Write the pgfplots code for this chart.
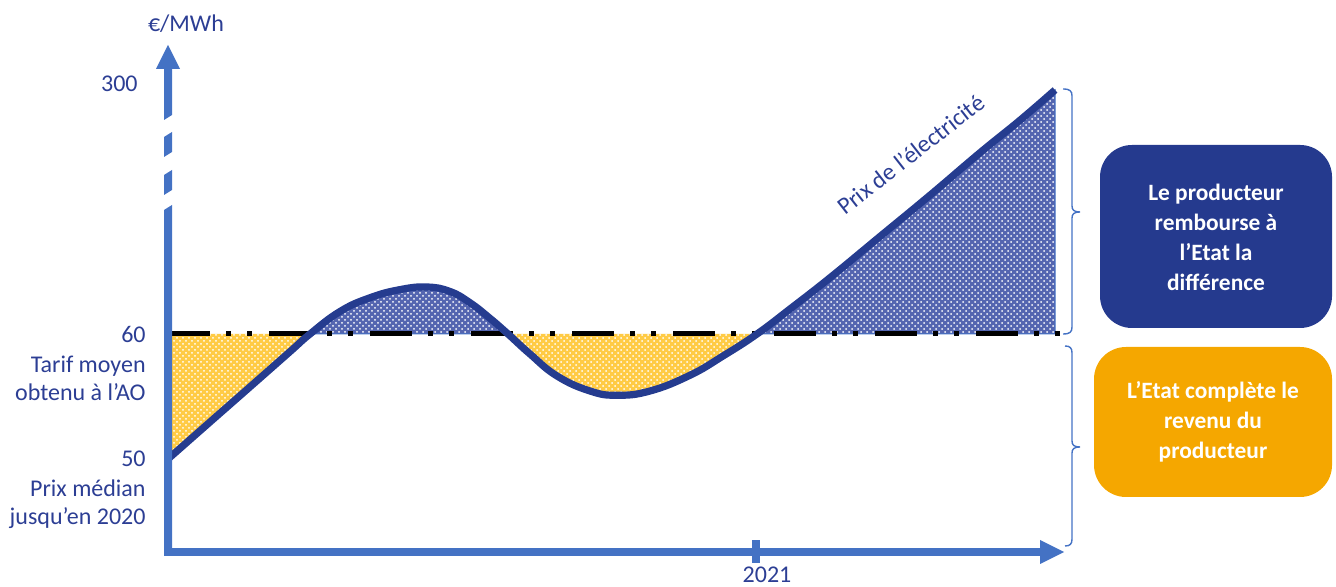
\documentclass[border=0pt]{standalone}
\usepackage{fontspec}
\setmainfont{Carlito}
\usepackage{pgfplots}
\pgfplotsset{compat=1.18}
\usepgfplotslibrary{fillbetween}
\usetikzlibrary{patterns}
\definecolor{axisblue}{HTML}{4472C4}
\definecolor{curvenavy}{HTML}{253C8F}
\definecolor{textnavy}{HTML}{2C3E94}
\definecolor{boxnavy}{HTML}{253A8E}
\definecolor{boxorange}{HTML}{F5A700}
\definecolor{yfill}{HTML}{FFCB45}
\definecolor{bfill}{HTML}{5465B0}
\pgfplotstableread{
x y
168 50.0
210 52.96
250 55.77
290 58.59
310 60.0
340 61.8
370 62.9
400 63.55
427 63.76
450 63.4
470 62.5
490 61.25
508 60.0
530 58.4
557 56.64
590 55.44
617 55.1
650 55.44
690 56.7
723 58.24
757 60.0
790 62.0
830 64.5
880 67.8
930 71.1
980 74.5
1020 77.1
1055 79.52
}\pricetable
\begin{document}
\begin{tikzpicture}
\begin{axis}[scale only axis, width=668pt, height=293.5pt,
  xmin=0, xmax=1336, ymin=39.76, ymax=86.72,
  axis lines=none, ticks=none, clip=false]
\addplot[name path=curve, draw=none, smooth, tension=0.75] table[x=x, y=y] {\pricetable};
\addplot[name path=ref, draw=none] coordinates {(168,60) (1063,60)};
\addplot[fill=yfill, postaction={pattern=crosshatch dots, pattern color=white}]
  fill between[of=curve and ref, soft clip={domain=168:310}];
\addplot[fill=yfill, postaction={pattern=crosshatch dots, pattern color=white}]
  fill between[of=curve and ref, soft clip={domain=508:757}];
\addplot[fill=bfill, draw=axisblue, line width=0.5pt, postaction={pattern=crosshatch dots, pattern color=white}]
  fill between[of=curve and ref, soft clip={domain=310:508}];
\addplot[fill=bfill, draw=axisblue, line width=0.5pt, postaction={pattern=crosshatch dots, pattern color=white}]
  fill between[of=curve and ref, soft clip={domain=757:1055}];
\addplot[black, line width=2.5pt, dash pattern=on 21pt off 8pt on 2.5pt off 8pt on 2.5pt off 8.5pt]
  coordinates {(168,60) (1063,60)};
\addplot[curvenavy, line width=3.6pt, smooth, tension=0.75] table[x=x, y=y] {\pricetable};
\end{axis}
\begin{scope}[shift={(0pt,293.5pt)}, x=0.5pt, y=-0.5pt,
  every node/.style={inner sep=0pt, font=\fontsize{12pt}{14.5pt}\selectfont}]
% y axis (broken)
\fill[axisblue] (164,552) -- (172,552) -- (172,205) -- (164,210) -- cycle;
\fill[axisblue] (164,195) -- (172,190) -- (172,170) -- (164,175) -- cycle;
\fill[axisblue] (164,157) -- (172,152) -- (172,132) -- (164,137) -- cycle;
\fill[axisblue] (164,120) -- (172,115) -- (172,68) -- (164,68) -- cycle;
\fill[axisblue] (156,69) -- (180,69) -- (168,45) -- cycle;
% x axis
\fill[axisblue] (164,548) rectangle (1041,556);
\fill[axisblue] (1040,540) -- (1064,552) -- (1040,564) -- cycle;
\fill[axisblue] (752,540) rectangle (760,563);
% labels
\node[anchor=base, text=textnavy] at (186,32) {€/MWh};
\node[anchor=base east, text=textnavy] at (138,92) {300};
\node[anchor=base east, text=textnavy] at (146,343) {60};
\node[anchor=base east, text=textnavy] at (146,373) {Tarif moyen};
\node[anchor=base east, text=textnavy] at (146,401) {obtenu à l’AO};
\node[anchor=base east, text=textnavy] at (146,467) {50};
\node[anchor=base east, text=textnavy] at (146,497) {Prix médian};
\node[anchor=base east, text=textnavy] at (146,525) {jusqu’en 2020};
\node[anchor=base, text=textnavy] at (767,583) {2021};
\node[anchor=base, text=textnavy, rotate=38] at (916,161) {Prix de l’électricité};
% braces
\draw[axisblue, line width=0.7pt] (1063,89) .. controls (1070,89) and (1072,91) .. (1072,96)
  -- (1072,206) .. controls (1072,210) and (1074,212) .. (1080,212)
  .. controls (1074,212) and (1072,214) .. (1072,218) -- (1072,327)
  .. controls (1072,332) and (1070,334) .. (1063,334);
\draw[axisblue, line width=0.7pt] (1065,346) .. controls (1070,346) and (1072,348) .. (1072,353)
  -- (1072,441) .. controls (1072,445) and (1074,447) .. (1080,447)
  .. controls (1074,447) and (1072,449) .. (1072,453) -- (1072,539)
  .. controls (1072,544) and (1070,546) .. (1065,546);
% boxes
\fill[boxnavy, rounded corners=16pt] (1100,145) rectangle (1332,328);
\node[text=white, align=center, font=\fontsize{11.7pt}{15pt}\bfseries\selectfont] at (1216,237)
  {Le producteur\\rembourse à\\l’Etat la\\différence};
\fill[boxorange, rounded corners=16pt] (1094,347) rectangle (1332,497);
\node[text=white, align=center, font=\fontsize{11.7pt}{15pt}\bfseries\selectfont] at (1213,422)
  {L’Etat complète le\\revenu du\\producteur};
\end{scope}
\pgfresetboundingbox
\useasboundingbox (0,0) rectangle (668pt,293.5pt);
\end{tikzpicture}
\end{document}
